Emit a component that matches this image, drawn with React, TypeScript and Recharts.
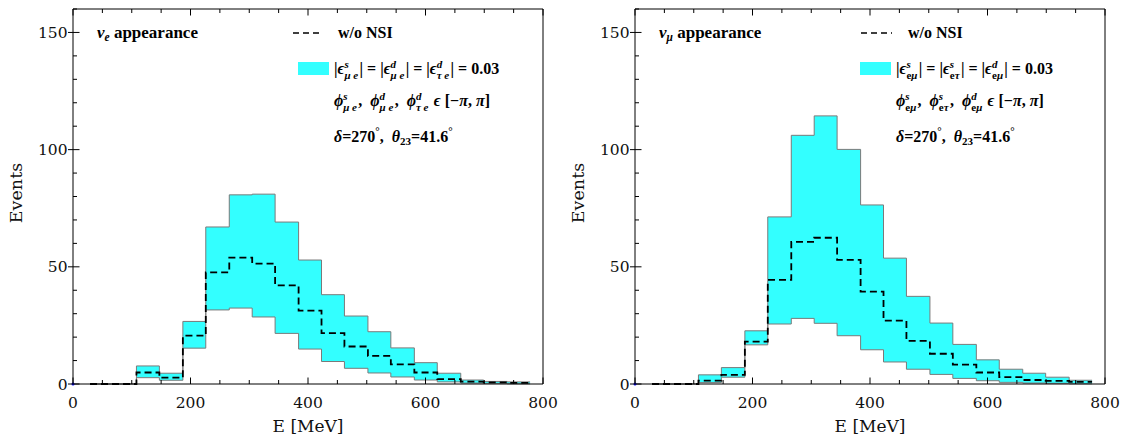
import React from "react";
import {
  ComposedChart,
  Area,
  Line,
  XAxis,
  YAxis,
  ReferenceDot,
} from "recharts";

// bin edges in MeV (19 bins)
const binEdges = [29, 68, 108, 147, 187, 226, 266, 305, 344, 384, 423, 462, 502, 541, 581, 620, 660, 699, 739, 778];

// nu_e appearance
const eNoNsi = [0, 0, 4.9, 2.7, 20.6, 47.6, 53.9, 51.4, 42.1, 31.3, 21.7, 16, 12, 8.4, 4.9, 2.1, 1.0, 0.7, 0.5];
const eUpper = [0, 0, 7.7, 4.6, 26.7, 67, 80.7, 81, 69.1, 52.9, 38.1, 29, 22.3, 15.4, 9.1, 4.6, 1.7, 1.1, 0.9];
const eLower = [0, 0, 2.7, 1.6, 15.3, 31.6, 32.4, 28.6, 21.6, 14.9, 9.6, 6.7, 4.7, 3, 1.7, 0.9, 0.4, 0.3, 0.1];

// nu_mu appearance
const muNoNsi = [0, 0, 1.4, 3.9, 18.1, 44.4, 60.6, 62.4, 53, 39.4, 27, 18.4, 12.9, 8.3, 4.9, 2.9, 1.7, 1.3, 0.9];
const muUpper = [0, 0, 3.9, 7.0, 22.7, 71.3, 106.1, 114.4, 100.1, 76.4, 53.7, 37.4, 26, 16.9, 10.3, 6.3, 4.6, 2.9, 1.6];
const muLower = [0, 0, 0.6, 2.9, 16.7, 25.6, 28, 25.9, 20.6, 14.6, 9.4, 6.3, 4.1, 2.4, 1.4, 0.7, 0.4, 0.3, 0.1];

const xMajor = [0, 200, 400, 600, 800];
const yMajor = [0, 50, 100, 150];
const xTicks = Array.from({ length: 17 }, (_, i) => i * 50);
const yTicks = Array.from({ length: 17 }, (_, i) => i * 10);

const W = 563;
const H = 441;
const PL = 73;
const PR = 543;
const PT = 9;
const PB = 384;

const tickFont = "DejaVu Serif";
const noteFont = "Liberation Serif";
const sp2 = "\u00a0\u00a0";

const buildRows = (lower: number[], upper: number[], base: number[]) =>
  binEdges.map((e, i) => {
    const k = Math.min(i, lower.length - 1);
    return { e, band: [lower[k], upper[k]], base: base[k] };
  });

const BottomTick = (props: any) => {
  const { x, payload } = props;
  const major = xMajor.includes(payload.value);
  return (
    <g>
      <line x1={x} x2={x} y1={PB} y2={PB - (major ? 6.5 : 4)} stroke="#000" />
      {major && (
        <text x={x} y={PB + 23.5} textAnchor="middle" fontFamily={tickFont} fontSize={15.5} fill="#111">
          {payload.value}
        </text>
      )}
    </g>
  );
};

const TopTick = (props: any) => {
  const { x, payload } = props;
  const major = xMajor.includes(payload.value);
  return <line x1={x} x2={x} y1={PT} y2={PT + (major ? 6.5 : 4)} stroke="#000" />;
};

const LeftTick = (props: any) => {
  const { y, payload } = props;
  const major = yMajor.includes(payload.value);
  return (
    <g>
      <line x1={major ? PL - 5 : PL} x2={PL + (major ? 6.5 : 4)} y1={y} y2={y} stroke="#000" />
      {major && (
        <text x={PL - 5.5} y={y + 5.6} textAnchor="end" fontFamily={tickFont} fontSize={15.5} fill="#111">
          {payload.value}
        </text>
      )}
    </g>
  );
};

const RightTick = (props: any) => {
  const { y, payload } = props;
  const major = yMajor.includes(payload.value);
  return <line x1={PR} x2={PR - (major ? 6.5 : 4)} y1={y} y2={y} stroke="#000" />;
};

// stacked super/subscript after a symbol
const SupSub = ({ sup, sub, supW }: { sup: string; sub: React.ReactNode; supW: number }) => (
  <>
    <tspan dy={-6.5} fontSize={11} fontStyle="italic">{sup}</tspan>
    <tspan dx={-supW} dy={11.5} fontSize={11}>{sub}</tspan>
    <tspan dy={-5}>{"\u200a"}</tspan>
  </>
);

const Notes = ({ kind, dash, woX }: { kind: "e" | "mu"; dash: [number, number]; woX: number }) => {
  const tx = 334;
  const subA = kind === "e" ? <tspan fontStyle="italic">μ e</tspan> : <tspan>e<tspan fontStyle="italic">μ</tspan></tspan>;
  const subB = kind === "e" ? <tspan fontStyle="italic">μ e</tspan> : <tspan>e<tspan fontStyle="italic">τ</tspan></tspan>;
  const subC = kind === "e" ? <tspan fontStyle="italic">τ e</tspan> : <tspan>e<tspan fontStyle="italic">μ</tspan></tspan>;
  const supB = kind === "e" ? "d" : "s";
  return (
    <svg width={W} height={H} style={{ position: "absolute", left: 0, top: 0, pointerEvents: "none" }}>
      <g fontFamily={noteFont} fontWeight="bold" fontSize={16} fill="#000">
        <text x={97} y={38} fontSize={17}>
          <tspan fontStyle="italic">ν</tspan>
          <tspan dy={3} fontSize={11.5} fontStyle="italic">{kind === "e" ? "e" : "μ"}</tspan>
          <tspan dy={-3}>{"\u00a0appearance"}</tspan>
        </text>
        <line x1={dash[0]} x2={dash[1]} y1={33} y2={33} stroke="#000" strokeWidth={1.4} strokeDasharray="6 4" />
        <text x={woX} y={38}>w/o NSI</text>
        <rect x={298} y={62} width={31} height={13} fill="#33ffff" />
        <text x={tx} y={74}>
          <tspan>|</tspan>
          <tspan fontStyle="italic">ϵ</tspan>
          <SupSub sup="s" sub={subA} supW={4.3} />
          <tspan>| = |</tspan>
          <tspan fontStyle="italic">ϵ</tspan>
          <SupSub sup={supB} sub={subB} supW={supB === "d" ? 5.5 : 4.3} />
          <tspan>| = |</tspan>
          <tspan fontStyle="italic">ϵ</tspan>
          <SupSub sup="d" sub={subC} supW={5.5} />
          <tspan>| = 0.03</tspan>
        </text>
        <text x={tx} y={106}>
          <tspan fontStyle="italic">ϕ</tspan>
          <SupSub sup="s" sub={subA} supW={4.3} />
          <tspan>{"," + sp2}</tspan>
          <tspan fontStyle="italic">ϕ</tspan>
          <SupSub sup={supB} sub={subB} supW={supB === "d" ? 5.5 : 4.3} />
          <tspan>{"," + sp2}</tspan>
          <tspan fontStyle="italic">ϕ</tspan>
          <SupSub sup="d" sub={subC} supW={5.5} />
          <tspan>{"\u00a0"}</tspan>
          <tspan fontStyle="italic">ϵ</tspan>
          <tspan>{"\u00a0[−"}</tspan>
          <tspan fontStyle="italic">π</tspan>
          <tspan>{",\u00a0"}</tspan>
          <tspan fontStyle="italic">π</tspan>
          <tspan>]</tspan>
        </text>
        <text x={tx} y={142}>
          <tspan fontStyle="italic">δ</tspan>
          <tspan>=270</tspan>
          <tspan dy={-7} fontSize={11}>°</tspan>
          <tspan dy={7}>{"," + sp2}</tspan>
          <tspan fontStyle="italic">θ</tspan>
          <tspan dy={3} fontSize={11}>23</tspan>
          <tspan dy={-3}>=41.6</tspan>
          <tspan dy={-7} fontSize={11}>°</tspan>
        </text>
      </g>
      <text
        x={16}
        y={193}
        transform="rotate(-90 16 193)"
        textAnchor="middle"
        dominantBaseline="central"
        fontFamily={tickFont}
        fontSize={17.5}
        fill="#111"
      >
        Events
      </text>
      <text x={(PL + PR) / 2} y={432} textAnchor="middle" fontFamily={tickFont} fontSize={17} fill="#111">
        E [MeV]
      </text>
    </svg>
  );
};

const Panel = ({ rows, left, kind, dash, woX }: any) => (
  <div style={{ position: "absolute", left, top: 0, width: W, height: H }}>
    <ComposedChart width={W} height={H} data={rows} margin={{ top: 4, right: 10, bottom: 27, left: 33 }}>
      <XAxis
        xAxisId="b"
        dataKey="e"
        type="number"
        domain={[0, 800]}
        ticks={xTicks}
        interval={0}
        height={30}
        tickSize={0}
        tickMargin={0}
        axisLine={{ stroke: "#000" }}
        tickLine={false}
        tick={<BottomTick />}
      />
      <XAxis
        xAxisId="t"
        orientation="top"
        dataKey="e"
        type="number"
        domain={[0, 800]}
        ticks={xTicks}
        interval={0}
        height={5}
        tickSize={0}
        tickMargin={0}
        axisLine={{ stroke: "#000" }}
        tickLine={false}
        tick={<TopTick />}
      />
      <YAxis
        yAxisId="l"
        type="number"
        domain={[0, 160]}
        ticks={yTicks}
        interval={0}
        width={40}
        tickSize={0}
        tickMargin={0}
        axisLine={{ stroke: "#000" }}
        tickLine={false}
        tick={<LeftTick />}
      />
      <YAxis
        yAxisId="r"
        orientation="right"
        type="number"
        domain={[0, 160]}
        ticks={yTicks}
        interval={0}
        width={10}
        tickSize={0}
        tickMargin={0}
        axisLine={{ stroke: "#000" }}
        tickLine={false}
        tick={<RightTick />}
      />
      <Area
        xAxisId="b"
        yAxisId="l"
        type="stepAfter"
        dataKey="band"
        fill="#33ffff"
        fillOpacity={1}
        stroke="#7a7a7a"
        strokeWidth={1}
        isAnimationActive={false}
      />
      <Line
        xAxisId="b"
        yAxisId="l"
        type="stepAfter"
        dataKey="base"
        stroke="#000"
        strokeWidth={1.8}
        strokeDasharray="7 4"
        dot={false}
        isAnimationActive={false}
      />
      <ReferenceDot xAxisId="b" yAxisId="l" x={0} y={0} r={1.5} fill="#0000ff" stroke="none" ifOverflow="visible" />
    </ComposedChart>
    <Notes kind={kind} dash={dash} woX={woX} />
  </div>
);

const eRows = buildRows(eLower, eUpper, eNoNsi);
const muRows = buildRows(muLower, muUpper, muNoNsi);

export default function App() {
  return (
    <div style={{ position: "fixed", left: 0, top: 0, width: 1127, height: 441, background: "#fff" }}>
      <Panel rows={eRows} left={0} kind="e" dash={[293, 323]} woX={338} />
      <Panel rows={muRows} left={562} kind="mu" dash={[299, 330]} woX={346} />
    </div>
  );
}
